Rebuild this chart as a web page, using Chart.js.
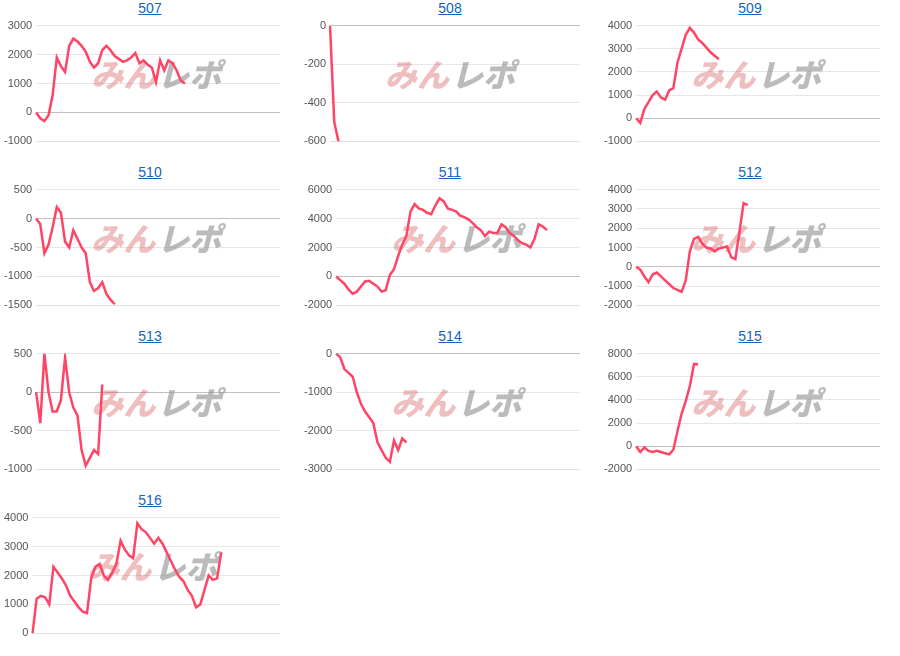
<!DOCTYPE html>
<html><head><meta charset="utf-8">
<script src="https://cdn.jsdelivr.net/npm/chart.js@4"></script>
<style>
body{margin:0;background:#fff;font-family:Arial,"Liberation Sans",sans-serif;}
#grid{position:relative;width:900px;height:656px;}
.cell{position:absolute;width:300px;height:164px;}
.cell a{position:absolute;top:0;left:0;width:300px;text-align:center;font-size:14px;color:#1565c0;text-decoration:underline;}
.cell .wrap{position:absolute;top:15px;left:0;width:280px;height:137px;}
</style></head><body>
<div id="grid"></div>
<script>
const names = ["507","508","509","510","511","512","513","514","515","516"];
const s507 = [0,-200,-300,-100,600,1900,1600,1400,2300,2550,2450,2300,2100,1750,1550,1700,2150,2300,2150,1950,1850,1750,1800,1900,2050,1700,1800,1650,1550,1050,1800,1450,1800,1700,1450,1100,1000];
const s508 = [0,-500,-600];
const s509 = [0,-200,400,700,1000,1150,900,800,1200,1300,2400,3000,3600,3900,3700,3400,3250,3050,2850,2700,2550];
const s510 = [0,-100,-600,-450,-150,200,100,-400,-500,-200,-350,-500,-600,-1100,-1250,-1200,-1100,-1300,-1400,-1480];
const s511 = [0,-250,-500,-900,-1200,-1050,-700,-350,-300,-500,-700,-1050,-950,100,500,1400,2200,2800,4500,5000,4700,4600,4400,4300,4900,5400,5200,4700,4600,4500,4200,4100,3950,3700,3400,3200,2800,3100,3000,3000,3600,3400,3000,2800,2500,2300,2200,2000,2600,3600,3450,3200];
const s512 = [0,-150,-500,-800,-400,-300,-500,-700,-900,-1100,-1200,-1300,-700,800,1450,1550,1200,1000,950,800,950,1000,1050,500,400,1800,3300,3200];
const s513 = [0,-400,500,0,-250,-250,-100,450,0,-200,-300,-750,-950,-850,-750,-800,100];
const s514 = [0,-100,-400,-500,-600,-1000,-1300,-1500,-1650,-1800,-2300,-2500,-2700,-2800,-2250,-2500,-2200,-2300];
const s515 = [0,-500,-100,-400,-500,-400,-500,-600,-700,-300,1300,2800,3900,5200,7100,7050];
const s516 = [0,1200,1300,1250,1000,2300,2100,1900,1650,1300,1100,900,750,700,1900,2300,2400,2000,1850,2100,2400,3200,2900,2700,2600,3800,3600,3500,3300,3100,3300,3100,2800,2500,2200,1950,1800,1500,1300,900,1000,1500,2000,1850,1900,2800];
const series = [s507,s508,s509,s510,s511,s512,s513,s514,s515,s516];
const yMin = [-1000,-600,-1000,-1500,-2000,-2000,-1000,-3000,-2000,0];
const yMax = [3000,0,4000,500,6000,4000,500,0,8000,4000];
const yStep = [1000,200,1000,500,2000,1000,500,1000,2000,1000];
const slots = 60;

const watermark = {
    id: 'watermark',
    beforeDatasetsDraw(chart) {
        const {ctx, chartArea} = chart;
        const x = chartArea.left + 55, y = 60;
        ctx.save();
        ctx.font = 'italic 900 32px "Noto Sans CJK JP"';
        ctx.textBaseline = 'middle';
        ctx.fillStyle = 'rgba(215,95,95,0.4)';
        ctx.fillText('みん', x, y);
        const w = ctx.measureText('みん').width;
        ctx.fillStyle = 'rgba(150,150,150,0.65)';
        ctx.fillText('レポ', x + w + 2, y);
        ctx.restore();
    }
};

const grid = document.getElementById('grid');
names.forEach((name, i) => {
    const cell = document.createElement('div');
    cell.className = 'cell';
    cell.style.left = (i % 3) * 300 + 'px';
    cell.style.top = Math.floor(i / 3) * 164 + 'px';
    cell.innerHTML = `<a>${name}</a><div class="wrap"><canvas></canvas></div>`;
    grid.appendChild(cell);
    const labels = Array.from({length: slots}, (_, k) => k);
    new Chart(cell.querySelector('canvas'), {
        type: 'line',
        data: { labels: labels, datasets: [{ data: series[i], borderColor: '#ff4466', borderWidth: 2.5, pointRadius: 0, tension: 0 }] },
        options: {
            responsive: true, maintainAspectRatio: false, animation: false,
            layout: { padding: { top: 6, bottom: 2 } },
            plugins: { legend: { display: false }, tooltip: { enabled: false } },
            scales: {
                x: { display: true, ticks: { display: false }, grid: { display: false, drawTicks: false }, border: { color: '#e0e0e0' } },
                y: {
                    min: yMin[i], max: yMax[i],
                    ticks: { stepSize: yStep[i], color: '#555', font: { size: 11 }, padding: 4, callback: v => String(v) },
                    grid: { color: ctx => ctx.tick.value === 0 ? '#c0c0c0' : '#e6e6e6', drawTicks: false },
                    border: { display: false }
                }
            }
        },
        plugins: [watermark]
    });
});
</script>
</body></html>
